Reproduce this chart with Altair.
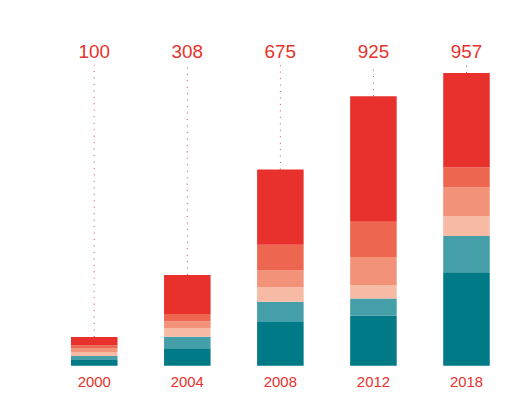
import altair as alt
import pandas as pd

years = ["2000", "2004", "2008", "2012", "2018"]
labels = [100, 308, 675, 925, 957]
segments = ["s1", "s2", "s3", "s4", "s5", "s6"]  # bottom -> top
colors = ["#007A87", "#459FA8", "#F6BAA5", "#F29279", "#EC6650", "#E8312C"]
values = {
    "2000": [19, 13, 13, 11, 11, 27],
    "2004": [57, 38, 28, 22, 24, 127],
    "2008": [143, 66, 47, 55, 84, 246],
    "2012": [163, 57, 44, 91, 115, 410],
    "2018": [305, 119, 64, 94, 66, 308],
}

rows = []
for y in years:
    for i, s in enumerate(segments):
        rows.append({"year": y, "seg": s, "order": i, "value": values[y][i]})
df = pd.DataFrame(rows)

tot = pd.DataFrame({
    "year": years,
    "label": [str(v) for v in labels],
    "top": [sum(values[y]) for y in years],
    "dottop": [983] * len(years),
})

xenc = alt.X("year:N", sort=years,
             scale=alt.Scale(paddingInner=0.5, paddingOuter=0.1),
             axis=alt.Axis(title=None, domain=False, ticks=False, labelAngle=0,
                           labelColor="#E8312C", labelFontSize=15, labelPadding=9,
                           labelFont="Liberation Sans", grid=False))
yscale = alt.Scale(domain=[0, 1100])

bars = alt.Chart(df).mark_bar().encode(
    x=xenc,
    y=alt.Y("value:Q", stack="zero", scale=yscale, axis=None),
    color=alt.Color("seg:N", scale=alt.Scale(domain=segments, range=colors), legend=None),
    order=alt.Order("order:Q", sort="ascending"),
)

rules = alt.Chart(tot).mark_rule(color="#B8282B", strokeWidth=1, strokeDash=[1, 5.5], opacity=0.85).encode(
    x=alt.X("year:N", sort=years),
    y=alt.Y("top:Q", scale=yscale),
    y2="dottop:Q",
)

text = alt.Chart(tot).mark_text(color="#E8312C", fontSize=19, font="Liberation Sans",
                                baseline="alphabetic", align="center").encode(
    x=alt.X("year:N", sort=years),
    y=alt.value(28.7),
    text="label:N",
)

chart = alt.layer(bars, rules, text).properties(
    width=440, height=338.7,
    autosize=alt.AutoSizeParams(type="none"),
    padding={"left": 54, "top": 20, "right": 10, "bottom": 30},
).configure_view(strokeWidth=0)

chart.save("out.html", embed_options={"renderer": "svg", "actions": False})
